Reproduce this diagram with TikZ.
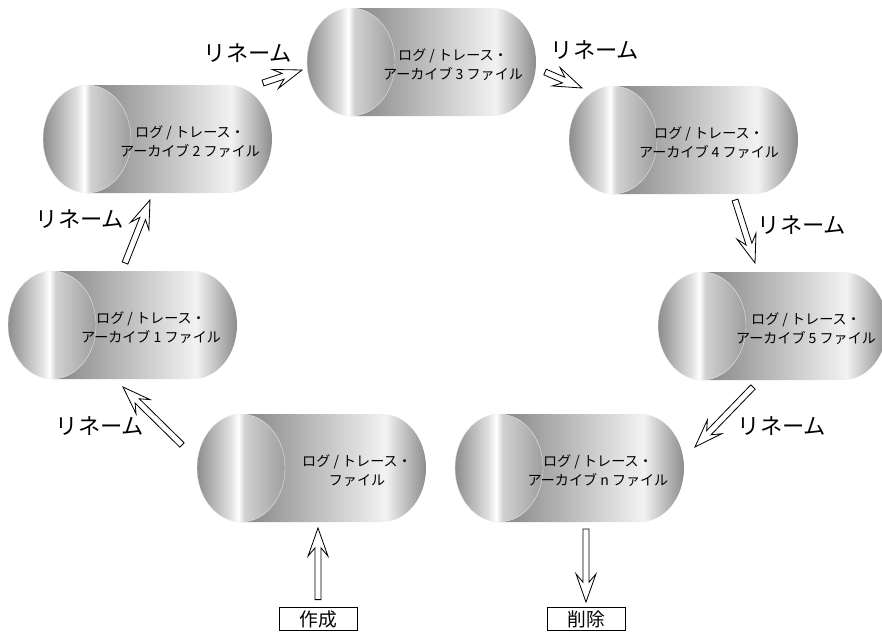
\documentclass[tikz,border=0pt]{standalone}
\usepackage{fontspec}
\setmainfont{Noto Sans CJK JP}
\usetikzlibrary{calc}

\definecolor{capA}{gray}{0.55}
\definecolor{capB}{gray}{0.88}
\definecolor{capC}{gray}{0.82}
\definecolor{capD}{gray}{0.62}
\definecolor{bodyA}{gray}{0.52}
\definecolor{bodyB}{gray}{0.95}
\definecolor{bodyC}{gray}{0.55}

\pgfdeclarehorizontalshading{capshade}{100bp}{color(0bp)=(capA); color(25bp)=(capA); color(44bp)=(capB); color(48.5bp)=(white); color(52bp)=(capC); color(75bp)=(capD); color(100bp)=(capD)}
\pgfdeclarehorizontalshading{bodyshade}{100bp}{color(0bp)=(bodyA); color(25bp)=(bodyA); color(64bp)=(bodyB); color(75bp)=(bodyC); color(100bp)=(bodyC)}

\begin{document}
\begin{tikzpicture}[x=0.03cm, y=-0.03cm,
    lbl/.style={font=\fontsize{12}{16}\selectfont, align=center},
    ren/.style={font=\fontsize{19}{21}\selectfont},
    box/.style={draw, line width=0.7pt, minimum width=2.34cm, minimum height=0.69cm, inner sep=0pt, font=\fontsize{16}{18}\selectfont},
    hollow/.style={draw, fill=white, line width=0.7pt, line join=miter}]
    \useasboundingbox (0,0) rectangle (882,632);

    % Els cilindres (fitxers)
    \foreach \lx/\cy/\tx/\nm/\sub in {
        197/468/357/f0/{ファイル},
        8/325/151/f1/{アーカイブ 1 ファイル},
        43/139/190/f2/{アーカイブ 2 ファイル},
        307/62/453/f3/{アーカイブ 3 ファイル},
        569/140/709/f4/{アーカイブ 4 ファイル},
        658/326/806/f5/{アーカイブ 5 ファイル},
        455/468/598/fn/{アーカイブ n ファイル}
    } {
        \shade[shading=bodyshade] (\lx+44,\cy-54) -- (\lx+185,\cy-54)
            arc[start angle=-90, end angle=90, x radius=44, y radius=54] -- (\lx+44,\cy+54) -- cycle;
        \shade[shading=capshade, draw=white!85!gray, line width=0.3pt] (\lx+44,\cy) ellipse [x radius=44, y radius=54];
        \node[lbl] (\nm) at (\tx,\cy+3) {ログ / トレース・\\\sub};
    }

    % Etiquetes
    \node[ren] (r1) at (100,426) {リネーム};
    \node[ren] (r2) at (80,219) {リネーム};
    \node[ren] (r3) at (248,53) {リネーム};
    \node[ren] (r4) at (595,50) {リネーム};
    \node[ren] (r5) at (802,225) {リネーム};
    \node[ren] (r6) at (782,426) {リネーム};

    \node[box] (mk) at (318,619) {作成};
    \node[box] (del) at (586,619) {削除};

    % Extrems de les fletxes
    \coordinate (a1s) at (182,445); \coordinate (a1e) at (123,387);
    \coordinate (a2s) at (125,263); \coordinate (a2e) at (150,200);
    \coordinate (a3s) at (263,83);  \coordinate (a3e) at (302,70);
    \coordinate (a4s) at (545,72);  \coordinate (a4e) at (582,88);
    \coordinate (a5s) at (735,200); \coordinate (a5e) at (755,263);
    \coordinate (a6s) at (753,387); \coordinate (a6e) at (695,447);
    \coordinate (mks) at ([yshift=0.225cm]mk.north); \coordinate (mke) at (318,528);
    \coordinate (dls) at (586,529); \coordinate (dle) at ([yshift=0.15cm]del.north);

    % Fletxes buides (cos + punta)
    \foreach \s/\e in {a1s/a1e, a2s/a2e, a3s/a3e, a4s/a4e, a5s/a5e, a6s/a6e, mks/mke, dls/dle} {
        \coordinate (hb) at ($(\e)!24pt!(\s)$);
        \coordinate (hj) at ($(\e)!17pt!(\s)$);
        \draw[hollow] ($(\s)!2.6pt!90:(\e)$) -- ($(hj)!2.6pt!90:(\e)$) -- ($(hb)!8.5pt!90:(\e)$)
            -- (\e) -- ($(hb)!8.5pt!-90:(\e)$) -- ($(hj)!2.6pt!-90:(\e)$) -- ($(\s)!2.6pt!-90:(\e)$) -- cycle;
    }

\end{tikzpicture}
\end{document}
